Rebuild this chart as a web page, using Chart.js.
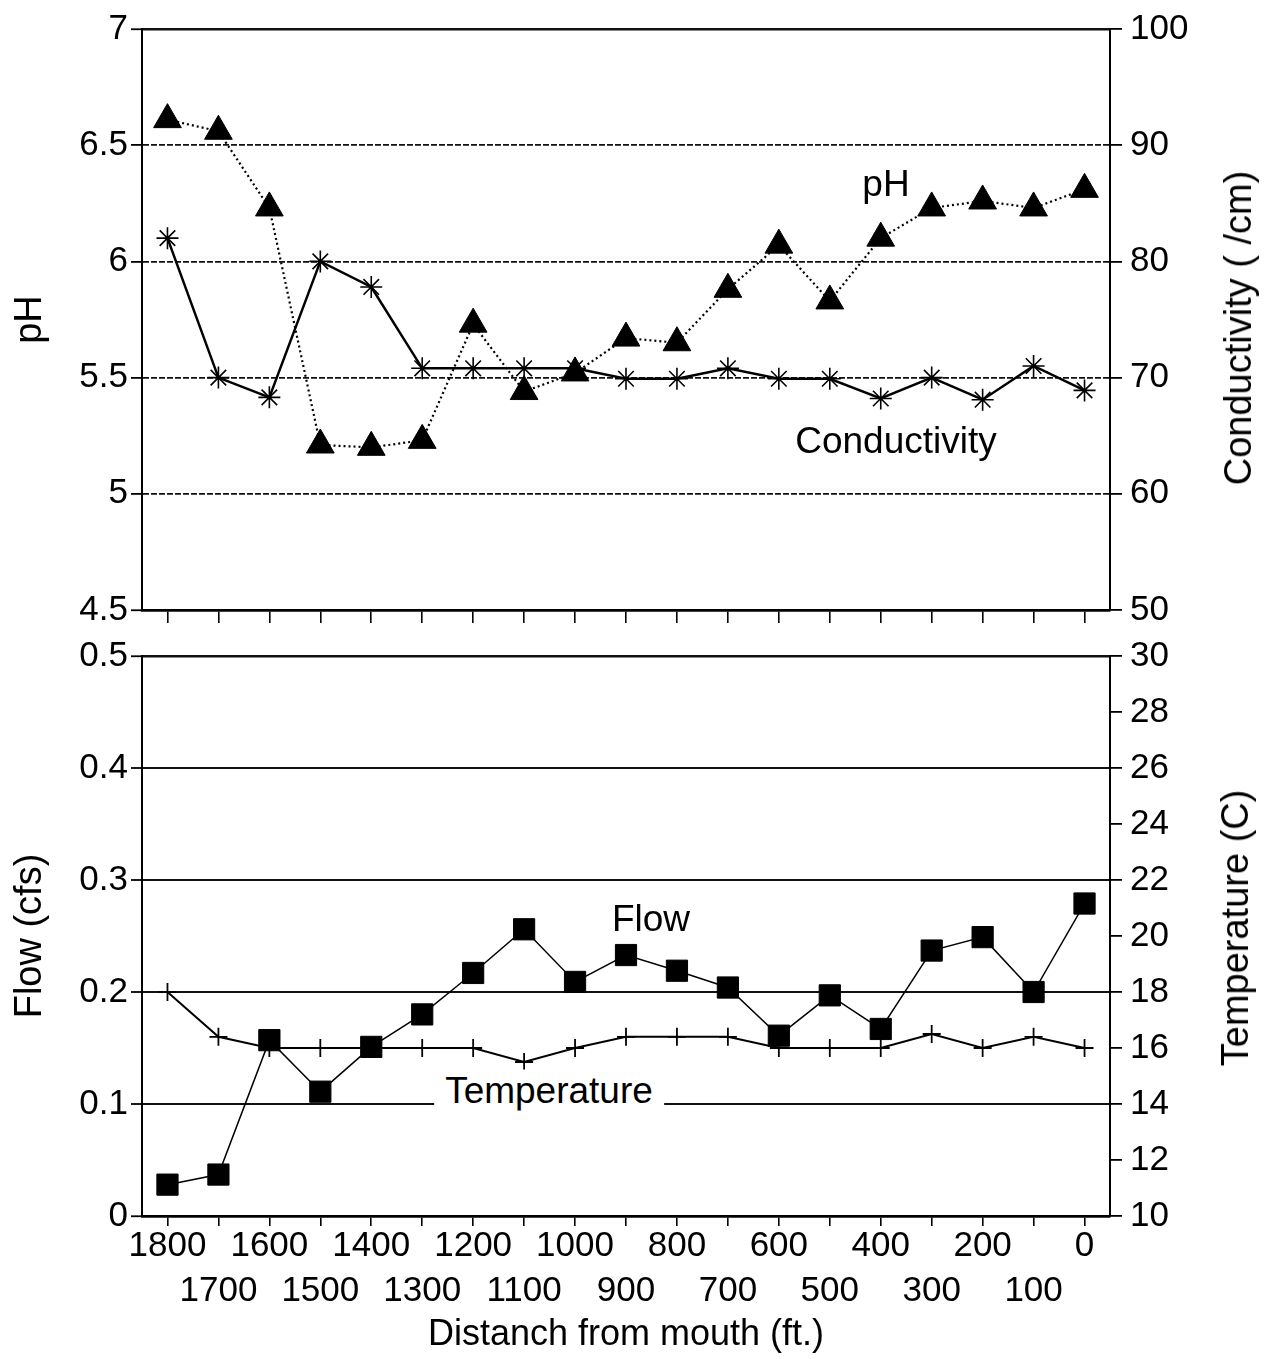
<!DOCTYPE html>
<html><head><meta charset="utf-8">
<script src="https://cdn.jsdelivr.net/npm/chart.js@4.4.1/dist/chart.umd.min.js"></script>
<style>
html,body{margin:0;padding:0;background:#fff;}
#wrap{position:relative;width:1268px;height:1359px;overflow:hidden;background:#fff;font-family:"Liberation Sans",Arial,sans-serif;color:#000;}
canvas{position:absolute;left:0;}
.lbl{position:absolute;white-space:nowrap;font-size:37px;line-height:1;transform:translate(-50%,-50%);}
.rt{position:absolute;white-space:nowrap;font-size:38px;line-height:1;transform:translate(-50%,-50%) rotate(-90deg);}
</style></head>
<body><div id="wrap">
<canvas id="top" width="1268" height="650" style="top:0"></canvas>
<canvas id="bot" width="1268" height="739" style="top:620px"></canvas>
<div class="rt" style="left:1238px;top:328px">Conductivity ( /cm)</div>
<div class="rt" style="left:1235px;top:928px">Temperature (C)</div>
<div class="lbl" style="left:886px;top:183px">pH</div>
<div class="lbl" style="left:896px;top:440px">Conductivity</div>
<div class="lbl" style="left:651px;top:918px">Flow</div>
<div class="lbl" style="left:549px;top:1090px;background:#fff;padding:2px 11px">Temperature</div>
</div>
<script>
// ---- data ----
const categories = ['1800','1700','1600','1500','1400','1300','1200','1100','1000','900','800','700','600','500','400','300','200','100','0'];
const pH = [6.61,6.56,6.23,5.21,5.20,5.23,5.73,5.44,5.52,5.67,5.65,5.88,6.07,5.83,6.10,6.23,6.26,6.23,6.31];
const conductivity = [82.0,70.0,68.3,80.0,77.8,70.8,70.8,70.8,70.8,69.9,69.9,70.8,69.9,69.9,68.2,70.0,68.1,71.0,68.9];
const flow = [0.028,0.037,0.157,0.111,0.151,0.180,0.217,0.256,0.209,0.233,0.219,0.204,0.161,0.197,0.167,0.237,0.249,0.200,0.279];
const temperature = [18.0,16.4,16.0,16.0,16.0,16.0,16.0,15.5,16.0,16.4,16.4,16.4,16.0,16.0,16.0,16.5,16.0,16.4,16.0];
const pHTicks = [4.5,5,5.5,6,6.5,7];
const conductivityTicks = [50,60,70,80,90,100];
const flowTicks = [0,0.1,0.2,0.3,0.4,0.5];
const temperatureTicks = [10,12,14,16,18,20,22,24,26,28,30];

const FAM = '"Liberation Sans", Arial, sans-serif';
const tickFont = {family: FAM, size: 35};
const titleFont = {family: FAM, size: 38};
const W = 1268, LEFT = 142, RIGHT = 1110;

function edge(v, arr){ return v === arr[0] || v === arr[arr.length-1]; }
function fmt(v){ return String(Math.round(v * 1000) / 1000); }

function leftAxis(ticksArr, title, dashed, gw){
  return {
    position: 'left', min: ticksArr[0], max: ticksArr[ticksArr.length-1],
    afterBuildTicks: s => { s.ticks = ticksArr.map(v => ({value: v})); },
    ticks: {font: tickFont, color: '#000', padding: 3, callback: v => fmt(v)},
    grid: {color: '#111', lineWidth: c => (c.tick && edge(c.tick.value, ticksArr)) ? 2.5 : gw,
           tickLength: 11, tickColor: '#000', tickWidth: 1.8},
    border: {display: true, color: '#000', width: 2,
             dash: c => (dashed && c.tick && !edge(c.tick.value, ticksArr)) ? [6, 2] : []},
    title: {display: true, text: title, font: titleFont, color: '#000', padding: {top: 8, bottom: 0}},
    afterFit: s => { s.width = LEFT; }
  };
}
function rightAxis(ticksArr){
  return {
    position: 'right', min: ticksArr[0], max: ticksArr[ticksArr.length-1],
    afterBuildTicks: s => { s.ticks = ticksArr.map(v => ({value: v})); },
    ticks: {font: tickFont, color: '#000', padding: 8, callback: v => fmt(v)},
    grid: {drawOnChartArea: false, tickLength: 12, color: '#000', lineWidth: 1.8},
    border: {display: true, color: '#000', width: 2},
    afterFit: s => { s.width = W - RIGHT; }
  };
}

const common = {
  responsive: false, animation: false, devicePixelRatio: 1,
  plugins: {legend: {display: false}, tooltip: {enabled: false}},
  elements: {line: {tension: 0}}
};

new Chart(document.getElementById('top'), {
  type: 'line',
  data: {
    labels: categories,
    datasets: [
      {label: 'Conductivity', data: conductivity, yAxisID: 'yR', borderColor: '#000', borderWidth: 2.5,
       pointStyle: 'star', pointRadius: 11, pointBorderColor: '#000', pointBorderWidth: 1.6, pointBackgroundColor: '#000'},
      {label: 'pH', data: pH, yAxisID: 'yL', borderColor: '#000', borderWidth: 2.2, borderDash: [2, 3],
       pointStyle: 'triangle', pointRadius: 16, pointBorderColor: '#000', pointBorderWidth: 1, pointBackgroundColor: '#000'}
    ]
  },
  options: Object.assign({}, common, {
    layout: {padding: {top: 25, left: 0, right: 0, bottom: 0}},
    scales: {
      x: {type: 'category', offset: true,
          grid: {drawOnChartArea: false, drawTicks: true, tickLength: 13, offset: false, color: '#000', lineWidth: 1.6},
          border: {display: true, color: '#000', width: 2.5},
          ticks: {display: false},
          afterFit: s => { s.height = 40; }},
      yL: leftAxis(pHTicks, 'pH', true, 1.8),
      yR: rightAxis(conductivityTicks)
    }
  })
});

new Chart(document.getElementById('bot'), {
  type: 'line',
  data: {
    labels: categories,
    datasets: [
      {label: 'Temperature', data: temperature, yAxisID: 'yR', borderColor: '#000', borderWidth: 2,
       pointStyle: 'cross', pointRadius: 9, pointBorderColor: '#000', pointBorderWidth: 1.8},
      {label: 'Flow', data: flow, yAxisID: 'yL', borderColor: '#000', borderWidth: 1.5,
       pointStyle: 'rect', pointRadius: 15, pointBorderColor: '#000', pointBorderWidth: 1, pointBackgroundColor: '#000'}
    ]
  },
  options: Object.assign({}, common, {
    layout: {padding: {top: 36, left: 0, right: 0, bottom: 0}},
    scales: {
      x: {type: 'category', offset: true,
          grid: {drawOnChartArea: false, drawTicks: true, tickLength: 10, offset: false, color: '#000', lineWidth: 1.6},
          border: {display: true, color: '#000', width: 2.5},
          ticks: {font: {family: FAM, size: 35, lineHeight: 1.28}, color: '#000', padding: -2,
                  autoSkip: false, maxRotation: 0, minRotation: 0,
                  callback: (v, i) => (i % 2 === 0) ? categories[i] : ['', categories[i]]},
          title: {display: true, text: 'Distanch from mouth (ft.)', font: {family: FAM, size: 36}, color: '#000',
                  padding: {top: 0, bottom: 2}},
          afterFit: s => { s.height = 143; }},
      yL: leftAxis(flowTicks, 'Flow (cfs)', false, 2),
      yR: rightAxis(temperatureTicks)
    }
  })
});
</script>
</body></html>
